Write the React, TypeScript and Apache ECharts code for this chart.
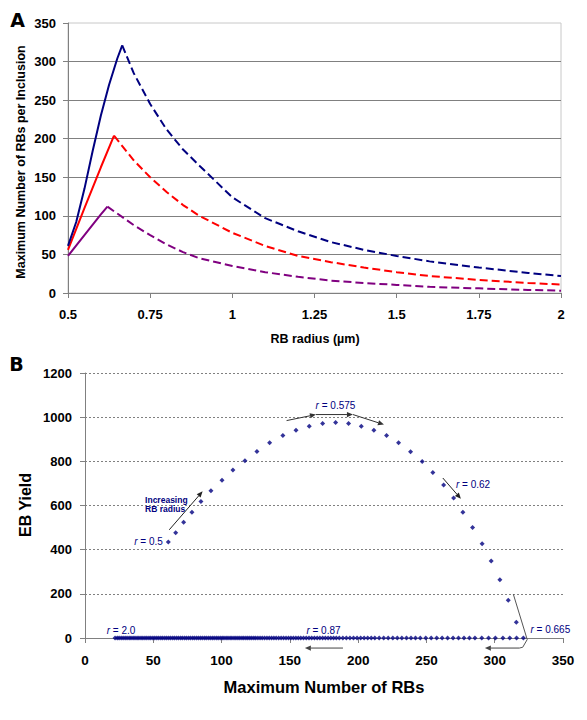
import React, { useEffect, useRef } from 'react';
import * as echarts from 'echarts';

// ---------- Panel A: maximum number of RBs per inclusion vs RB radius ----------
const blueRiseR = [0.5, 0.525, 0.55, 0.575, 0.6, 0.625, 0.65, 0.665];
const blueRiseN = [61, 92, 135, 184, 230, 270, 304, 321];
const blueFallR = [0.665, 0.7, 0.75, 0.8, 0.85, 0.9, 1.0, 1.1, 1.2, 1.3, 1.4, 1.5, 1.6, 1.75, 1.9, 2.0];
const blueFallN = [321, 285, 245, 212, 186, 165, 124, 97, 80, 66, 56, 48, 41, 33, 26, 22];

const redRiseR = [0.5, 0.55, 0.6, 0.64];
const redRiseN = [56, 110, 163, 204];
const redFallR = [0.64, 0.7, 0.75, 0.8, 0.85, 0.9, 1.0, 1.1, 1.2, 1.3, 1.4, 1.5, 1.6, 1.75, 1.9, 2.0];
const redFallN = [204, 172, 150, 131, 114, 100, 78, 61, 48, 40, 33, 27, 22, 17, 13, 11];

const purpleRiseR = [0.5, 0.55, 0.6, 0.62];
const purpleRiseN = [48, 75, 102, 112];
const purpleFallR = [0.62, 0.65, 0.7, 0.75, 0.8, 0.85, 0.9, 1.0, 1.1, 1.2, 1.3, 1.4, 1.5, 1.6, 1.75, 1.9, 2.0];
const purpleFallN = [112, 103, 88, 75, 63, 53, 45, 35, 27, 21, 16, 13, 10.5, 8, 6, 4, 3];

// ---------- Panel B: EB yield vs maximum number of RBs ----------
const arcRBs = [61.0, 66.4, 72.2, 78.3, 84.9, 92.2, 100.3, 108.3, 117.1, 125.9, 135.2, 144.9, 154.5, 164.2, 174.0,
  183.5, 193.0, 202.3, 211.5, 220.8, 229.6, 238.4, 246.9, 254.7, 262.6, 269.9, 276.7, 283.8, 290.8, 297.4, 303.8,
  309.9, 315.8];
const arcYield = [435, 477, 524, 570, 618, 667, 714, 761, 803, 845, 884, 917, 941, 959, 971, 976, 971, 959, 941,
  917, 884, 843, 799, 750, 693, 634, 570, 500, 427, 349, 264, 171, 71];
const zeroRowRBs = [
  321, 316, 311, 306, 300.5, 295.5, 290.5, 285.5, 281.5, 277.5, 273.5, 269.5, 265.5, 261.5, 257.5, 253.5, 249.5,
  245.5, 242, 238.7, 235.4, 232, 228.7, 225.4, 222, 218.7, 215.4, 212.2, 209.6, 207, 204.4, 201.8, 199.2, 196.6,
  194, 191.4, 188.8, 186.2, 184, 182, 180, 178, 176, 174, 172, 170, 168, 166, 164, 162, 160, 158, 156.2, 154.4,
  152.6, 150.8, 149, 147.2, 145.4, 143.6, 141.8, 140, 138.3, 136.6, 134.9, 133.2, 131.5, 129.8, 128.2, 126.6, 125,
  123.6, 122.1, 120.7, 119.2, 117.8, 116.3, 114.9, 113.4, 112, 110.5, 109.1, 107.6, 106.2, 104.7, 103.3, 101.8,
  100.4, 99, 97.5, 96.1, 94.6, 93.2, 91.7, 90.3, 88.8, 87.4, 85.9, 84.5, 83, 81.6, 80.1, 78.7, 77.2, 75.8, 74.3,
  72.9, 71.4, 70, 68.5, 67.1, 65.6, 64.2, 62.7, 61.3, 59.8, 58.4, 56.9, 55.5, 54, 52.6, 51.1, 49.7, 48.2, 46.8,
  45.3, 43.9, 42.4, 41, 39.5, 38.1, 36.6, 35.2, 33.7, 32.3, 30.8, 29.4, 27.9, 26.5, 25, 23.6, 22];

const FONT = '"Liberation Sans", Arial, sans-serif';
const NAVY = '#000080';

const zip = (a: number[], b: number[]) => a.map((v, i) => [v, b[i]]);

export default function App() {
  const ref = useRef<HTMLDivElement>(null);
  useEffect(() => {
    if (!ref.current) return;
    const chart = echarts.init(ref.current, undefined, { renderer: 'svg' });
    const plain = (v: number) => String(v);
    const labelA = { fontFamily: FONT, fontWeight: 'bold', fontSize: 13, color: '#000', formatter: plain };
    const lineSeries = (r: number[], n: number[], color: string, dashed: boolean) => ({
      type: 'line', xAxisIndex: 0, yAxisIndex: 0, data: zip(r, n), showSymbol: false, symbol: 'none',
      lineStyle: { color, width: 2, type: dashed ? [8, 4] : 'solid' }, silent: true,
    });
    const option: any = {
      animation: false,
      backgroundColor: '#ffffff',
      grid: [
        { left: 68, top: 23, width: 493, height: 270, show: true, borderColor: '#c8c8c8', borderWidth: 1,
          backgroundColor: 'transparent', outerBoundsMode: 'none' },
        { left: 85, top: 373, width: 478, height: 265, outerBoundsMode: 'none' },
      ],
      xAxis: [
        { gridIndex: 0, type: 'value', min: 0.5, max: 2, interval: 0.25,
          axisLine: { show: true, onZero: false, lineStyle: { color: '#808080', width: 1 } },
          axisTick: { show: true, length: 5, lineStyle: { color: '#808080' } },
          axisLabel: { ...labelA, margin: 15 }, splitLine: { show: false } },
        { gridIndex: 1, type: 'value', min: 0, max: 350, interval: 50,
          axisLine: { show: true, onZero: false, lineStyle: { color: '#808080', width: 1 } },
          axisTick: { show: true, length: 5, lineStyle: { color: '#808080' } },
          axisLabel: { ...labelA, fontSize: 13.5, margin: 15 }, splitLine: { show: false } },
      ],
      yAxis: [
        { gridIndex: 0, type: 'value', min: 0, max: 350, interval: 50,
          axisLine: { show: true, onZero: false, lineStyle: { color: '#808080', width: 1 } },
          axisTick: { show: true, length: 5, lineStyle: { color: '#808080' } },
          axisLabel: { ...labelA, margin: 12 },
          splitLine: { show: true, showMaxLine: false, lineStyle: { color: '#808080', width: 1 } } },
        { gridIndex: 1, type: 'value', min: 0, max: 1200, interval: 200,
          axisLine: { show: true, onZero: false, lineStyle: { color: '#808080', width: 1 } },
          axisTick: { show: true, length: 5, lineStyle: { color: '#808080' } },
          axisLabel: { ...labelA, margin: 13 },
          splitLine: { show: true, lineStyle: { color: '#808080', width: 1, type: [2, 2] } } },
      ],
      series: [
        lineSeries(purpleRiseR, purpleRiseN, '#800080', false),
        lineSeries(purpleFallR, purpleFallN, '#800080', true),
        lineSeries(redRiseR, redRiseN, '#ff0000', false),
        lineSeries(redFallR, redFallN, '#ff0000', true),
        lineSeries(blueRiseR, blueRiseN, NAVY, false),
        lineSeries(blueFallR, blueFallN, NAVY, true),
        { type: 'scatter', xAxisIndex: 1, yAxisIndex: 1, symbol: 'diamond', symbolSize: 5,
          itemStyle: { color: NAVY }, data: zeroRowRBs.map((x) => [x, 0]), silent: true },
        { type: 'scatter', xAxisIndex: 1, yAxisIndex: 1, symbol: 'diamond', symbolSize: 5,
          itemStyle: { color: NAVY }, data: zip(arcRBs, arcYield), silent: true },
      ],
    };
    chart.setOption(option);

    const P = (x: number, y: number) => chart.convertToPixel({ gridIndex: 1 } as any, [x, y]) as number[];
    const txt = (x: number, y: number, text: string, extra: any = {}) => ({
      type: 'text', x, y, silent: true, z: 100,
      style: { text, fontFamily: FONT, fontWeight: 'bold', fontSize: 13, fill: '#000',
        textAlign: 'center', textVerticalAlign: 'middle', ...extra },
    });
    const rLabel = (N: number, Y: number, value: string, align = 'left') => {
      const p = P(N, Y);
      return {
        type: 'text', x: p[0], y: p[1], silent: true, z: 100,
        style: { text: '{i|r} = ' + value, fontFamily: FONT, fontSize: 10, fill: NAVY,
          textAlign: align, textVerticalAlign: 'middle',
          rich: { i: { fontStyle: 'italic', fontFamily: FONT, fontSize: 10, fill: NAVY, color: NAVY } } },
      };
    };
    const arrow = (a: number[], b: number[], color: string) => {
      const p1 = P(a[0], a[1]);
      const p2 = P(b[0], b[1]);
      const dx = p2[0] - p1[0];
      const dy = p2[1] - p1[1];
      const len = Math.hypot(dx, dy);
      const ux = dx / len;
      const uy = dy / len;
      const L = 6, W = 2.6;
      const bx = p2[0] - ux * L;
      const by = p2[1] - uy * L;
      return [
        { type: 'line', silent: true, z: 100, shape: { x1: p1[0], y1: p1[1], x2: bx, y2: by },
          style: { stroke: color, lineWidth: 1 } },
        { type: 'polygon', silent: true, z: 100,
          shape: { points: [[p2[0], p2[1]], [bx - uy * W, by + ux * W], [bx + uy * W, by - ux * W]] },
          style: { fill: color } },
      ];
    };
    const bracket = [[313.6, 199], [323.8, -7], [320.5, -42], [318, -45.5]].map((d) => P(d[0], d[1]));

    const graphics: any[] = [
      txt(17.5, 20, 'A', { fontFamily: '"DejaVu Sans", sans-serif', fontSize: 19 }),
      txt(16.5, 364, 'B', { fontFamily: '"DejaVu Sans", sans-serif', fontSize: 19 }),
      { ...txt(21, 162, 'Maximum Number of RBs per Inclusion', { fontSize: 12.5 }), rotation: Math.PI / 2 },
      txt(315, 339, 'RB radius (\u00b5m)', { fontSize: 12.5 }),
      { ...txt(25, 505, 'EB Yield', { fontSize: 16 }), rotation: Math.PI / 2 },
      txt(324, 687, 'Maximum Number of RBs', { fontSize: 16.5 }),
      rLabel(57, 438, '0.5', 'right'),
      rLabel(183.4, 1054, '0.575', 'center'),
      rLabel(271.6, 694, '0.62'),
      rLabel(15.9, 35, '2.0'),
      rLabel(162.1, 35, '0.87'),
      rLabel(326.2, 38, '0.665'),
      (() => { const p = P(44, 624); return txt(p[0], p[1], 'Increasing', { fontSize: 8.5, fill: NAVY, textAlign: 'left' }); })(),
      (() => { const p = P(44, 583); return txt(p[0], p[1], 'RB radius', { fontSize: 8.5, fill: NAVY, textAlign: 'left' }); })(),
      ...arrow([61.7, 490], [86.1, 664], '#222'),
      ...arrow([147.6, 984.5], [169.1, 1011.8], '#333'),
      ...arrow([169.1, 1011.8], [196.2, 1011.8], '#333'),
      ...arrow([196.2, 1011.8], [218.9, 966.4], '#333'),
      ...arrow([262, 724.5], [275.2, 630.5], '#222'),
      ...arrow([188.9, -45.5], [161, -45.5], '#444'),
      { type: 'polyline', silent: true, z: 100, shape: { points: bracket }, style: { stroke: '#555', lineWidth: 1, fill: null } },
      ...arrow([318, -45.5], [292.8, -45.5], '#444'),
    ];
    chart.setOption({ graphic: graphics });
    return () => chart.dispose();
  }, []);
  return <div ref={ref} style={{ position: 'absolute', left: 0, top: 0, width: 587, height: 720 }} />;
}
